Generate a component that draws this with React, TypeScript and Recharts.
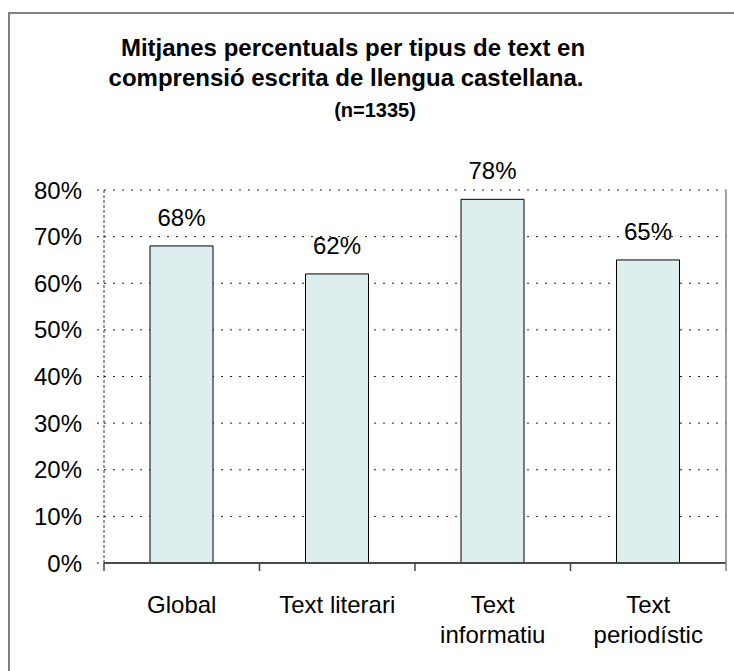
import React from "react";
import { BarChart, Bar, XAxis, YAxis, CartesianGrid, LabelList } from "recharts";

const CATEGORIES = ["Global", "Text literari", "Text informatiu", "Text periodístic"];
const TICK_LINES = [["Global"], ["Text literari"], ["Text", "informatiu"], ["Text", "periodístic"]];
const VALUES = [68, 62, 78, 65];
const Y_TICKS = [0, 10, 20, 30, 40, 50, 60, 70, 80];
const TITLE_LINES = [
  "Mitjanes percentuals per tipus de text en",
  "comprensió escrita de llengua castellana.",
];
const SUBTITLE = "(n=1335)";

const FONT = "'Liberation Sans', Arial, sans-serif";
const W = 734;
const H = 671;
const MARGIN = { top: 190, right: 8, bottom: 8, left: 24 };
const Y_AXIS_W = 80;
const X_AXIS_H = 100;
const PLOT_W = W - MARGIN.left - Y_AXIS_W - MARGIN.right;
const PLOT_H = H - MARGIN.top - MARGIN.bottom - X_AXIS_H;

const data = CATEGORIES.map((c, i) => ({ name: c, value: VALUES[i] }));

const XTick = (props: any) => {
  const { x, y, payload, index } = props;
  const half = PLOT_W / CATEGORIES.length / 2;
  const lines = TICK_LINES[index] ?? [String(payload.value)];
  const last = index === CATEGORIES.length - 1;
  return (
    <g>
      {index === 0 && (
        <line x1={x - half} x2={x - half} y1={y} y2={y + 8} stroke="#444" strokeWidth={1.5} />
      )}
      <line
        x1={x + half}
        x2={x + half}
        y1={last ? y - PLOT_H : y}
        y2={y + 8}
        stroke={last ? "#808080" : "#444"}
        strokeWidth={1.5}
      />
      <text x={x} y={y} textAnchor="middle" fontFamily={FONT} fontSize={24} fill="#000">
        {lines.map((l: string, i: number) => (
          <tspan key={i} x={x} y={y + 50 + i * 30}>
            {l}
          </tspan>
        ))}
      </text>
    </g>
  );
};

export default function App() {
  return (
    <div style={{ position: "absolute", left: 0, top: 0, width: W, height: H, overflow: "hidden", background: "#fff" }}>
      <svg width={W} height={H} style={{ position: "absolute", left: 0, top: 0 }}>
        <line x1={8} x2={W} y1={13} y2={13} stroke="#808080" strokeWidth={2} />
        <line x1={9} x2={9} y1={12} y2={H} stroke="#808080" strokeWidth={2} />
        <text x={353} y={56} textAnchor="middle" fontFamily={FONT} fontSize={24} fontWeight="bold" fill="#000">
          {TITLE_LINES[0]}
        </text>
        <text x={346} y={86} textAnchor="middle" fontFamily={FONT} fontSize={24} fontWeight="bold" fill="#000">
          {TITLE_LINES[1]}
        </text>
        <text x={375} y={117} textAnchor="middle" fontFamily={FONT} fontSize={20} fontWeight="bold" fill="#000">
          {SUBTITLE}
        </text>
      </svg>
      <div style={{ position: "absolute", left: 0, top: 0 }}>
        <BarChart width={W} height={H} data={data} margin={MARGIN} barCategoryGap={0}>
          <CartesianGrid yAxisId="l" horizontal vertical={false} stroke="#222" strokeDasharray="2 7" />
          <XAxis
            dataKey="name"
            height={X_AXIS_H}
            tickSize={0}
            tickMargin={0}
            axisLine={{ stroke: "#4a4a4a", strokeWidth: 2 }}
            tickLine={false}
            tick={<XTick />}
            interval={0}
          />
          <YAxis
            yAxisId="l"
            width={Y_AXIS_W}
            domain={[0, 80]}
            ticks={Y_TICKS}
            interval={0}
            tickFormatter={(v: number) => `${v}%`}
            tickSize={7}
            tickMargin={15}
            tick={{ fontFamily: FONT, fontSize: 24, fill: "#000" }}
            axisLine={{ stroke: "#333", strokeDasharray: "3 2" }}
            tickLine={{ stroke: "#222", strokeDasharray: "2 5" }}
          />
          <Bar
            yAxisId="l"
            dataKey="value"
            fill="#DEEDED"
            stroke="#000"
            strokeWidth={1}
            barSize={63}
            isAnimationActive={false}
          >
            <LabelList
              dataKey="value"
              position="top"
              offset={20}
              formatter={(v: any) => `${v}%`}
              style={{ fontFamily: FONT, fontSize: 24, fill: "#000" }}
            />
          </Bar>
        </BarChart>
      </div>
    </div>
  );
}
